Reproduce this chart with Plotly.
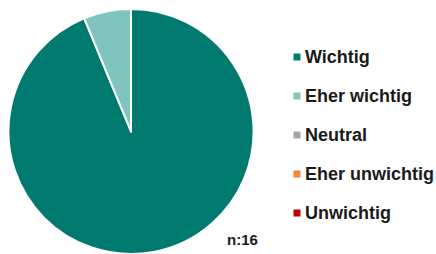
import plotly.graph_objects as go

labels = ["Wichtig", "Eher wichtig", "Neutral", "Eher unwichtig", "Unwichtig"]
values = [15, 1, 0, 0, 0]
colors = ["#007A6E", "#80C4BE", "#A6A6A6", "#F0893B", "#C00000"]
n_total = 16

W, H = 436, 254
fig = go.Figure()
fig.add_trace(go.Pie(
    labels=labels, values=values, sort=False, direction="clockwise", rotation=0,
    marker=dict(colors=colors, line=dict(color="white", width=2)),
    textinfo="none", hoverinfo="label+value", showlegend=False,
    domain=dict(x=[8/W, 254/W], y=[0, 0.965]),
))

# manual legend
leg_x = 297
leg_y0 = 57
leg_dy = 39
sq = 7
for i, (lab, col) in enumerate(zip(labels, colors)):
    yc = leg_y0 + i * leg_dy
    fig.add_shape(type="rect", xref="paper", yref="paper",
                  x0=(leg_x - sq/2)/W, x1=(leg_x + sq/2)/W,
                  y0=1-(yc + sq/2)/H, y1=1-(yc - sq/2)/H,
                  fillcolor=col, line=dict(width=0))
    fig.add_annotation(text=f"<b>{lab}</b>", xref="paper", yref="paper",
                       x=(leg_x + 6)/W, y=1-yc/H, xanchor="left", yanchor="middle",
                       showarrow=False, font=dict(size=18, color="#1a1a1a"))

fig.add_annotation(text=f"<b>n:{n_total}</b>", x=242/W, y=1-239/H, xref="paper", yref="paper",
                   showarrow=False, font=dict(size=15, color="#1a1a1a"),
                   xanchor="center", yanchor="middle")

fig.update_layout(
    width=W, height=H, margin=dict(l=0, r=0, t=0, b=0),
    paper_bgcolor="white", plot_bgcolor="white",
    font=dict(family="Liberation Sans, Arial", size=15, color="#1a1a1a"),
    showlegend=False,
)
fig.write_html("out.html", config={"displayModeBar": False},
               post_script="document.body.style.margin='0';")
